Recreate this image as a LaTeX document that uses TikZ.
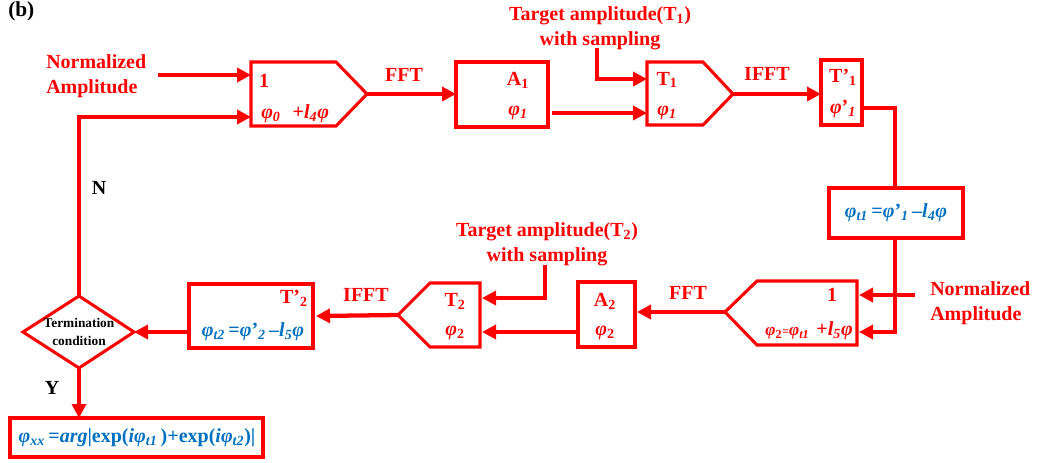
\documentclass[tikz,border=0pt]{standalone}
\usepackage{fontspec}
\setmainfont{Liberation Serif}
\usetikzlibrary{arrows.meta}
\definecolor{rd}{RGB}{255,0,0}
\definecolor{bl}{RGB}{0,112,192}
\newcommand\vp{{\itshape φ}}
\newcommand\sbx[1]{\textsubscript{#1}}
\begin{document}
\begin{tikzpicture}[x=0.75pt,y=-0.75pt,
  font=\bfseries\fontsize{15}{18.5}\selectfont,
  conn/.style={line width=3.2pt, draw=rd, -{Triangle[length=10.5pt,width=10.5pt]}},
  wire/.style={line width=3.2pt, draw=rd},
  boxline/.style={line width=2.3pt, draw=rd, line join=miter},
  rtxt/.style={text=rd, inner sep=0pt},
  btxt/.style={text=bl, inner sep=0pt},
  ktxt/.style={text=black, inner sep=0pt},
  lblL/.style={text=rd, inner sep=0pt, align=left},
  lblC/.style={text=rd, inner sep=0pt, align=center}]
\useasboundingbox (0,0) rectangle (1037,462);

% ---------- title ----------
\node[ktxt, anchor=north west, font=\bfseries\fontsize{16}{18}\selectfont] (title) at (8,1) {(b)};

% ---------- box shapes ----------
% box 1 (pentagon pointing right)
\draw[boxline] (251,62) -- (336,62) -- (367,94) -- (336,126) -- (251,126) -- cycle;
\coordinate (b1a) at (251,75);
\coordinate (b1b) at (251,117);
\coordinate (b1o) at (367,94);
% A1
\draw[boxline] (456,62) rectangle (548,127);
\coordinate (a1w) at (456,94);
\coordinate (a1e) at (552,113);
% T1 (pentagon pointing right)
\draw[boxline] (647,62) -- (703,62) -- (733,94) -- (703,125) -- (647,125) -- cycle;
\coordinate (t1a) at (647,79);
\coordinate (t1b) at (647,113);
\coordinate (t1o) at (733,94);
% T'1
\draw[boxline] (821,60) rectangle (862,125);
\coordinate (tp1w) at (821,94);
\coordinate (tp1e) at (862,108);
% phi_t1 box
\draw[boxline] (829,188) rectangle (963,238);
\coordinate (pt1n) at (895,188);
\coordinate (pt1s) at (895,238);
% box 2 (pentagon pointing left)
\draw[boxline] (857,281) -- (757,281) -- (725,312) -- (757,345) -- (857,345) -- cycle;
\coordinate (b2a) at (859,295);
\coordinate (b2b) at (859,332);
\coordinate (b2o) at (725,312);
% A2
\draw[boxline] (578,282) rectangle (635,347);
\coordinate (a2e) at (637,312);
\coordinate (a2w) at (576,332);
% T2 (pentagon pointing left)
\draw[boxline] (480,283) -- (430,283) -- (398,315) -- (430,347) -- (480,347) -- cycle;
\coordinate (t2a) at (482,298);
\coordinate (t2b) at (482,332);
\coordinate (t2o) at (398,315);
% T'2
\draw[boxline] (189,284) rectangle (313,348);
\coordinate (tp2e) at (316,316);
\coordinate (tp2w) at (189,332);
% diamond
\draw[boxline] (23,332) -- (79,296) -- (134,332) -- (79,368) -- cycle;
\coordinate (dn) at (79,296);
\coordinate (de) at (134,332);
\coordinate (ds) at (79,368);
% final box
\draw[boxline] (10,418) rectangle (263,457);
\coordinate (fn) at (79,418);

% ---------- texts in boxes ----------
\node[rtxt] (b1t1) at (264,81) {1};
\node[rtxt, anchor=west] (b1t2) at (261,114) {\vp\sbx{\itshape 0}\hspace{0.6em}+{\itshape l}\sbx{\itshape 4}\vp};
\node[rtxt] (a1t1) at (518,80) {A\sbx{1}};
\node[rtxt] (a1t2) at (518,113) {\vp\sbx{\itshape 1}};
\node[rtxt] (t1t1) at (667,80) {T\sbx{1}};
\node[rtxt] (t1t2) at (667,113) {\vp\sbx{\itshape 1}};
\node[rtxt] (tp1t1) at (843,77) {T’\sbx{1}};
\node[rtxt] (tp1t2) at (843,109) {\vp’\sbx{\itshape 1}};
\node[btxt] (pt1t) at (896,213) {\vp\sbx{\itshape t1}\,=\vp’\sbx{\itshape 1}\,–{\itshape l}\sbx{\itshape 4}\vp};
\node[rtxt] (b2t1) at (832,295) {1};
\node[rtxt, anchor=east] (b2t2) at (853,331) {{\fontsize{13}{15}\selectfont\vp\sbx{2}{\fontsize{9}{10}\selectfont=}\vp\sbx{\itshape t1}}\hspace{0.35em}+{\itshape l}\sbx{\itshape 5}\vp};
\node[rtxt] (a2t1) at (605,301) {A\sbx{2}};
\node[rtxt] (a2t2) at (605,333) {\vp\sbx{2}};
\node[rtxt] (t2t1) at (455,301) {T\sbx{2}};
\node[rtxt] (t2t2) at (455,333) {\vp\sbx{2}};
\node[rtxt, anchor=east] (tp2t1) at (308,298) {T’\sbx{2}};
\node[btxt] (tp2t2) at (253,332) {\vp\sbx{\itshape t2}\,=\vp’\sbx{\itshape 2}\,–{\itshape l}\sbx{\itshape 5}\vp};
\node[ktxt, align=center, font=\bfseries\fontsize{10}{13}\selectfont] (dt) at (79,332) {Termination\\condition};
\node[btxt] (ft) at (137,438) {\vp\sbx{\itshape xx}\,=\textit{arg}|exp(\textit{i}\vp\sbx{\itshape t1}\,)+exp(\textit{i}\vp\sbx{\itshape t2})|};

% ---------- labels ----------
\node[lblL, anchor=west] (na1) at (46,76) {Normalized\\Amplitude};
\node[lblL, anchor=west] (na2) at (930,303) {Normalized\\Amplitude};
\node[lblC] (ta1) at (600,28) {Target amplitude(T\sbx{1})\\with sampling};
\node[lblC] (ta2) at (547,244) {Target amplitude(T\sbx{2})\\with sampling};
\node[rtxt] (fft1) at (404,75) {FFT};
\node[rtxt] (ifft1) at (767,74) {IFFT};
\node[rtxt] (fft2) at (688,293) {FFT};
\node[rtxt] (ifft2) at (366,295) {IFFT};
\node[ktxt] (nl) at (99,188) {N};
\node[ktxt] (yl) at (52,388) {Y};

% ---------- connectors ----------
\coordinate (na1e) at (158,75);
\coordinate (na2w) at (915,295);
\coordinate (ta1s) at (597,48);
\coordinate (ta2s) at (545,265);
\draw[conn] (na1e) -- (b1a);
\draw[conn] (dn) -- (79,117) -- (b1b);
\draw[conn] (b1o) -- (a1w);
\draw[conn] (a1e) -- (t1b);
\draw[conn] (ta1s) |- (t1a);
\draw[conn] (t1o) -- (tp1w);
\draw[wire, line join=miter] (tp1e) -| (pt1n);
\draw[conn] (pt1s) |- (b2b);
\draw[conn] (na2w) -- (b2a);
\draw[conn] (b2o) -- (a2e);
\draw[conn] (a2w) -- (t2b);
\draw[conn] (ta2s) |- (t2a);
\draw[conn] (t2o) -- (tp2e);
\draw[conn] (tp2w) -- (de);
\draw[conn] (ds) -- (fn);
\end{tikzpicture}
\end{document}
